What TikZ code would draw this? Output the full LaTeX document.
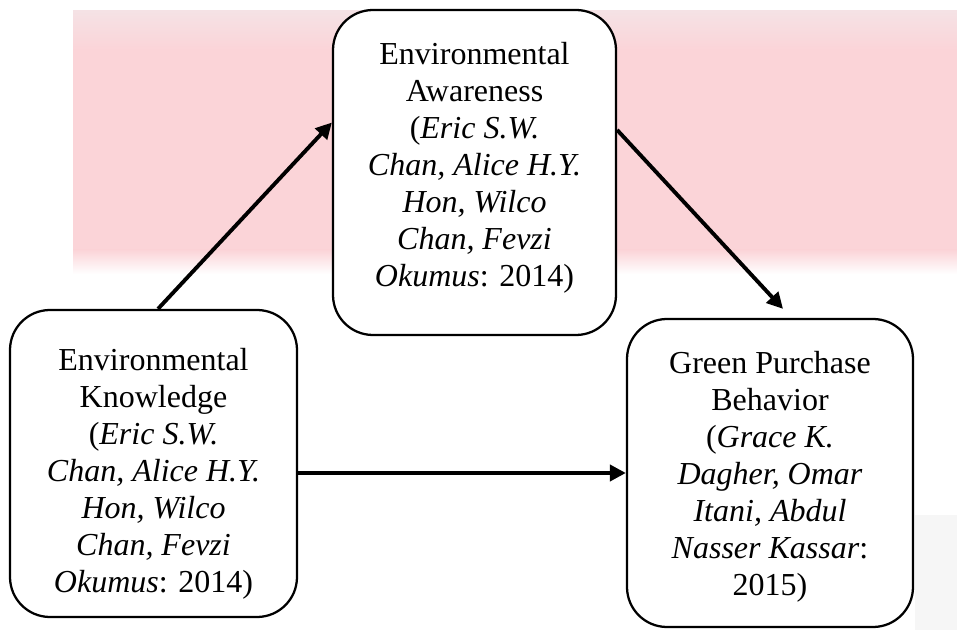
\documentclass[tikz,border=0pt]{standalone}
\usepackage{fontspec}
\setmainfont{Liberation Serif}
\usetikzlibrary{arrows.meta}
\definecolor{bandpink}{RGB}{251,212,216}
\definecolor{bandtop}{RGB}{245,226,229}
\definecolor{faintgray}{RGB}{246,246,246}
\begin{document}
\begin{tikzpicture}[x=0.75pt,y=-0.75pt,
  box/.style={draw=black, line width=1.7pt, rounded corners=30pt, fill=white, inner sep=0pt},
  txt/.style={align=center, font=\fontsize{24}{27.75}\selectfont, inner sep=0pt},
  link/.style={line width=2.9pt, -{Triangle[length=12pt,width=12pt]}}]
\useasboundingbox (0,0) rectangle (957,630);
% background watermark band
\fill[bandpink] (73,11) rectangle (957,255);
\shade[top color=bandtop, bottom color=bandpink] (73,11) rectangle (957,50);
\shade[top color=bandpink, bottom color=white] (73,250) rectangle (957,274);
\fill[faintgray] (915,515) rectangle (957,630);
% boxes
\node[box, minimum width=212.25pt, minimum height=243.75pt] (ta) at (474.5,172.5) {};
\node[box, minimum width=215.25pt, minimum height=230.25pt] (lb) at (153.5,463.5) {};
\node[box, minimum width=214.5pt, minimum height=231pt] (rb) at (770,473) {};
% texts
\node[txt] (tat) at (474.5,168) {Environmental\\Awareness\\(\textit{Eric S.W.}\\\textit{Chan, Alice H.Y.}\\\textit{Hon, Wilco}\\\textit{Chan, Fevzi}\\\textit{Okumus}: 2014)};
\node[txt] (lbt) at (153.5,474) {Environmental\\Knowledge\\(\textit{Eric S.W.}\\\textit{Chan, Alice H.Y.}\\\textit{Hon, Wilco}\\\textit{Chan, Fevzi}\\\textit{Okumus}: 2014)};
\node[txt] (rbt) at (770,477) {Green Purchase\\Behavior\\(\textit{Grace K.}\\\textit{Dagher, Omar}\\\textit{Itani, Abdul}\\\textit{Nasser Kassar}:\\2015)};
% connectors
\draw[link] ([xshift=3.4pt]lb.north) -- ([yshift=37.5pt]ta.west);
\draw[link] ([yshift=31.9pt]ta.east) -- ([xshift=9.75pt,yshift=6.75pt]rb.north);
\draw[link] (lb.east |- rb.west) -- (rb.west);
\end{tikzpicture}
\end{document}
